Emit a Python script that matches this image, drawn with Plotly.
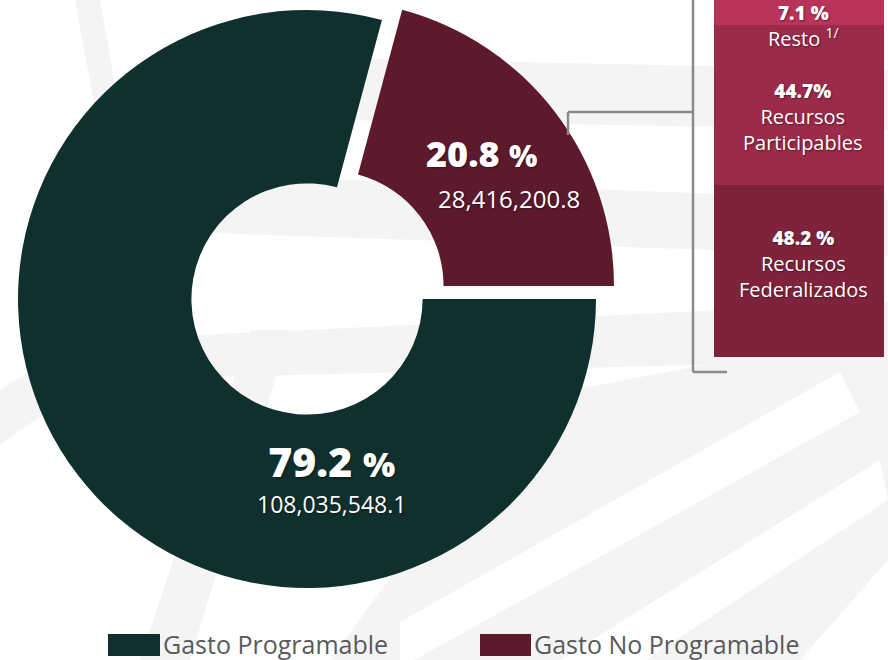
import plotly.graph_objects as go

# ---- data -------------------------------------------------------------
gasto_labels = ["Gasto No Programable", "Gasto Programable"]
gasto_values = [28416200.8, 108035548.1]
gasto_colors = ["#5e1a2d", "#10302d"]

bar_labels = ["Recursos<br>Federalizados", "Recursos<br>Participables", "Resto <sup>1/</sup>"]
bar_values = [48.2, 44.7, 7.1]
bar_colors = ["#7f233d", "#9c2b4b", "#b8345a"]
bar_pct_sep = [" ", "", " "]

W, H = 888, 660


def px(x):
    return x / W


def py(y):
    return 1 - y / H


def path_to_paper(p):
    pts = p.split()
    out = []
    j = 0
    while j < len(pts):
        if pts[j] in ("M", "L"):
            out.append(f"{pts[j]} {px(float(pts[j+1]))} {py(float(pts[j+2]))}")
            j += 3
        else:
            out.append(pts[j])
            j += 1
    return " ".join(out)


TRANSPARENT = "rgba(0,0,0,0)"
FONT = "Open Sans"
SHADOW = "1px 1px 2px rgba(0,0,0,0.45)"

total = sum(gasto_values)
pct = [v / total * 100 for v in gasto_values]
# first slice (no programable) ends at 3 o'clock
start_angle = 90 - 360 * gasto_values[0] / total

fig = go.Figure()

# ---- donut: programable part -------------------------------------------
fig.add_trace(go.Pie(
    labels=gasto_labels, values=gasto_values, sort=False,
    direction="clockwise", rotation=start_angle, hole=0.4,
    marker=dict(colors=[TRANSPARENT, gasto_colors[1]], line=dict(width=0)),
    textinfo="none", hoverinfo="label+value+percent", showlegend=False,
    domain=dict(x=[px(18), px(596)], y=[py(588), py(10)]),
))
# ---- donut: no programable part, shifted out of the ring ----------------
fig.add_trace(go.Pie(
    labels=gasto_labels, values=gasto_values, sort=False,
    direction="clockwise", rotation=start_angle, hole=0.404,
    marker=dict(colors=[gasto_colors[0], TRANSPARENT], line=dict(width=0)),
    textinfo="none", hoverinfo="label+value+percent", showlegend=False,
    domain=dict(x=[px(39), px(617)], y=[py(572), py(0)]),
))

# ---- stacked breakdown of the no programable spending -------------------
for lab, val, col in zip(bar_labels, bar_values, bar_colors):
    fig.add_trace(go.Bar(
        x=[0], y=[val], name=lab, marker=dict(color=col, line=dict(width=0)),
        width=1, showlegend=False, hoverinfo="name+y",
    ))

annotations = []
# no programable slice: percentage and amount (offset to the right)
annotations.append(dict(
    x=px(482), y=py(153), xref="paper", yref="paper", showarrow=False,
    text=f"{pct[0]:.1f} <span style='font-size:30px'>%</span>",
    font=dict(family=FONT, size=36, color="white", weight=800, shadow=SHADOW),
    xanchor="center", yanchor="middle",
))
annotations.append(dict(
    x=px(509), y=py(198), xref="paper", yref="paper", showarrow=False,
    text=f"{gasto_values[0]:,.1f}",
    font=dict(family=FONT, size=24, color="white", shadow=SHADOW),
    xanchor="center", yanchor="middle",
))
# programable slice: stacked percentage and amount
annotations.append(dict(
    x=px(331), y=py(476), xref="paper", yref="paper", showarrow=False,
    text=(f"<span style='font-size:41px;font-weight:800'>{pct[1]:.1f} "
          f"<span style='font-size:34px'>%</span></span><br>"
          f"<span style='font-size:23px'>{gasto_values[1]:,.1f}</span>"),
    align="center",
    font=dict(family=FONT, size=28, color="white", shadow=SHADOW),
    xanchor="center", yanchor="middle",
))

# bar labels: percentage on the first line, name below (centre y in pixels)
bar_text_y = [264, 117, 26]
for lab, val, sep, yc in zip(bar_labels, bar_values, bar_pct_sep, bar_text_y):
    annotations.append(dict(
        x=px(803), y=py(yc), xref="paper", yref="paper", showarrow=False,
        text=f"<span style='font-weight:800;font-size:19px'>{val}{sep}%</span><br>{lab}",
        align="center",
        font=dict(family=FONT, size=20, color="white", shadow=SHADOW),
        xanchor="center", yanchor="middle",
    ))

shapes = []

# faint background bands
GRAY = "#f4f4f4"
bands = [
    "M 340 58 L 888 70 L 888 130 L 340 120 Z",
    "M 180 174 L 888 200 L 888 256 L 180 232 Z",
    "M 180 336 L 888 302 L 888 360 L 180 378 Z",
    "M 330 660 L 520 400 L 888 330 L 888 660 Z",
    "M 0 390 L 110 320 L 140 345 L 0 445 Z",
    "M 140 660 L 250 330 L 290 330 L 190 660 Z",
    "M 75 0 L 100 0 L 135 200 L 112 200 Z",
]
for p in bands:
    shapes.append(dict(type="path", path=path_to_paper(p), xref="paper", yref="paper",
                       fillcolor=GRAY, line=dict(width=0), layer="below"))

white_stripes = [
    "M 840 372 L 860 412 L 400 668 L 400 622 Z",
    "M 880 460 L 888 500 L 600 690 L 560 660 Z",
    "M 888 560 L 888 660 L 800 660 Z",
]
for p in white_stripes:
    shapes.append(dict(type="path", path=path_to_paper(p), xref="paper", yref="paper",
                       fillcolor="white", line=dict(width=0), layer="below"))

# legend entries
legend_items = [(108, 160, gasto_labels[1], gasto_colors[1]),
                (480, 531, gasto_labels[0], gasto_colors[0])]
for x0, x1, lab, col in legend_items:
    shapes.append(dict(type="rect", xref="paper", yref="paper",
                       x0=px(x0), x1=px(x1), y0=py(656), y1=py(634),
                       fillcolor=col, line=dict(width=0)))
    annotations.append(dict(
        x=px(x1 + 1), y=py(644), xref="paper", yref="paper", showarrow=False,
        text=lab, font=dict(family=FONT, size=25, color="#5a5a5a"),
        xanchor="left", yanchor="middle",
    ))

# connector lines
LINE = dict(color="#8a8a8a", width=2.5)
connector = [((568, 135), (568, 112)), ((568, 112), (693, 112)),
             ((693, 0), (693, 372)), ((693, 372), (727, 372))]
for (xa, ya), (xb, yb) in connector:
    shapes.append(dict(type="line", xref="paper", yref="paper",
                       x0=px(xa), y0=py(ya), x1=px(xb), y1=py(yb), line=LINE))

fig.update_layout(
    width=W, height=H, autosize=False,
    margin=dict(l=0, r=0, t=0, b=0),
    paper_bgcolor="white", plot_bgcolor="rgba(0,0,0,0)",
    barmode="stack", bargap=0,
    xaxis=dict(domain=[px(714), px(884)], range=[-0.5, 0.5], visible=False, fixedrange=True),
    yaxis=dict(domain=[py(357), 1], range=[0, 100], visible=False, fixedrange=True),
    shapes=shapes, annotations=annotations,
    font=dict(family=FONT),
)

fig.write_html("out.html")
